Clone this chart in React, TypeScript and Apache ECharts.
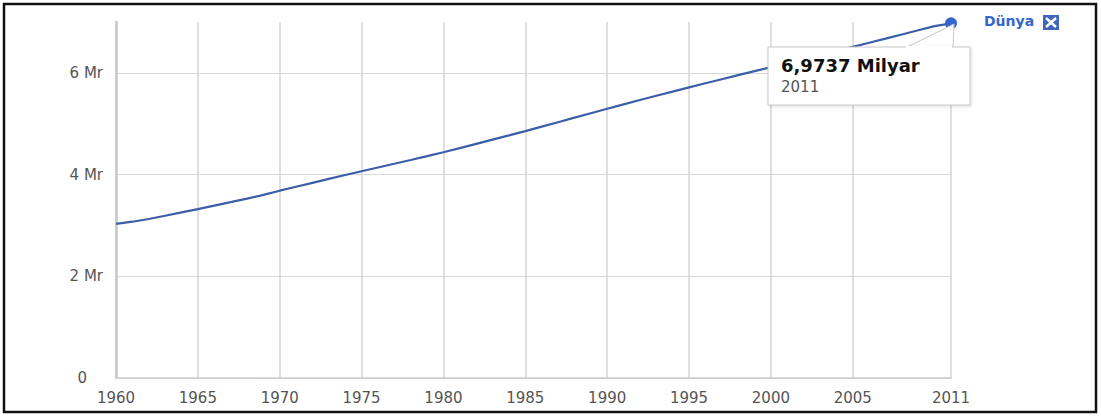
import React, { useEffect, useRef } from "react";
import * as echarts from "echarts";

const years: string[] = [];
for (let y = 1960; y <= 2011; y++) years.push(String(y));

// World population, billions (Milyar)
const population = [
  3.032, 3.073, 3.126, 3.191, 3.256, 3.322, 3.39, 3.458, 3.528, 3.6,
  3.683, 3.761, 3.838, 3.915, 3.991, 4.066, 4.139, 4.212, 4.286, 4.362,
  4.44, 4.52, 4.604, 4.687, 4.77, 4.855, 4.942, 5.03, 5.119, 5.207,
  5.295, 5.381, 5.466, 5.549, 5.632, 5.714, 5.795, 5.875, 5.955, 6.034,
  6.114, 6.193, 6.272, 6.351, 6.43, 6.51, 6.591, 6.672, 6.755, 6.837,
  6.92, 6.9737,
];

const xTickLabels = ["1960", "1965", "1970", "1975", "1980", "1985", "1990", "1995", "2000", "2005", "2011"];
const yTickValues = [0, 2, 4, 6];
const seriesName = "Dünya";
const tooltipValue = "6,9737 Milyar";
const tooltipYear = "2011";

const FONT = "DejaVu Sans, Verdana, sans-serif";

export default function App() {
  const ref = useRef<HTMLDivElement>(null);
  useEffect(() => {
    document.body.style.margin = "0";
    const chart = echarts.init(ref.current!, null, { renderer: "svg" });
    const showX = (i: number) => xTickLabels.includes(years[i]);
    chart.setOption({
      animation: false,
      textStyle: { fontFamily: FONT },
      grid: { left: 116, right: 150, top: 22, bottom: 38, containLabel: false },
      xAxis: {
        type: "category",
        data: years,
        boundaryGap: false,
        axisLine: { show: true, lineStyle: { color: "#cccccc", width: 1.5 } },
        axisTick: { show: false },
        axisLabel: {
          interval: (i: number) => showX(i),
          color: "#555",
          fontSize: 15,
          fontFamily: FONT,
          margin: 12,
          showMaxLabel: true,
        },
        splitLine: {
          show: true,
          interval: (i: number) => showX(i),
          lineStyle: { color: "#d4d4d4", width: 1.5 },
        },
      },
      yAxis: {
        type: "value",
        min: 0,
        max: 7,
        interval: 2,
        axisLine: { show: true, lineStyle: { color: "#c8c8c8", width: 2.5 } },
        axisTick: { show: false },
        axisLabel: {
          color: "#555",
          fontSize: 15,
          fontFamily: FONT,
          margin: 13,
          showMaxLabel: false,
          formatter: (v: number) =>
            yTickValues.includes(v) ? (v === 0 ? "{z|0}" : v + " Mr") : "",
          rich: { z: { color: "#555", fontSize: 15, fontFamily: FONT, padding: [0, 16, 0, 0] } },
        },
        splitLine: {
          show: true,
          lineStyle: { color: ["#d8d8d8", "#d8d8d8", "#d8d8d8", "#d8d8d8", "rgba(0,0,0,0)"], width: 1.2 },
        },
      },
      series: [
        {
          name: seriesName,
          type: "line",
          data: population,
          symbol: "circle",
          symbolSize: (_v: number, p: any) => (p.dataIndex === population.length - 1 ? 12 : 0),
          showAllSymbol: true,
          itemStyle: { color: "#3366cc" },
          lineStyle: { color: "#3b5ea6", width: 2.2 },
        },
      ],
      graphic: [
        {
          type: "rect",
          shape: { x: 4, y: 4, width: 1092, height: 408 },
          style: { fill: "none", stroke: "#111", lineWidth: 2.5 },
          silent: true,
        },
        {
          type: "polygon",
          shape: { points: [[954, 24], [905, 48], [953, 48]] },
          style: { fill: "#fff", stroke: "#c8c8c8", lineWidth: 1 },
          z: 10,
        },
        {
          type: "rect",
          shape: { x: 768, y: 47, width: 202, height: 58 },
          style: { fill: "#fff", stroke: "#c8c8c8", lineWidth: 1, shadowBlur: 3, shadowColor: "rgba(0,0,0,0.15)", shadowOffsetX: 1, shadowOffsetY: 1 },
          z: 11,
        },
        {
          type: "rect",
          shape: { x: 906, y: 46, width: 46, height: 3 },
          style: { fill: "#fff" },
          z: 12,
        },
        {
          type: "text",
          x: 781,
          y: 56,
          style: { text: tooltipValue, fill: "#111", font: "bold 18px " + FONT },
          z: 12,
        },
        {
          type: "text",
          x: 781,
          y: 79,
          style: { text: tooltipYear, fill: "#555", font: "15px " + FONT },
          z: 12,
        },
        {
          type: "text",
          x: 984,
          y: 14,
          style: { text: seriesName, fill: "#3366cc", font: "bold 14px " + FONT },
        },
        {
          type: "rect",
          shape: { x: 1043, y: 15, width: 16, height: 15 },
          style: { fill: "#3f66b8" },
        },
        {
          type: "line",
          shape: { x1: 1046, y1: 18, x2: 1056, y2: 27 },
          style: { stroke: "#fff", lineWidth: 2.5 },
        },
        {
          type: "line",
          shape: { x1: 1056, y1: 18, x2: 1046, y2: 27 },
          style: { stroke: "#fff", lineWidth: 2.5 },
        },
      ],
    });
    return () => chart.dispose();
  }, []);
  return <div ref={ref} style={{ width: 1101, height: 416 }} />;
}
